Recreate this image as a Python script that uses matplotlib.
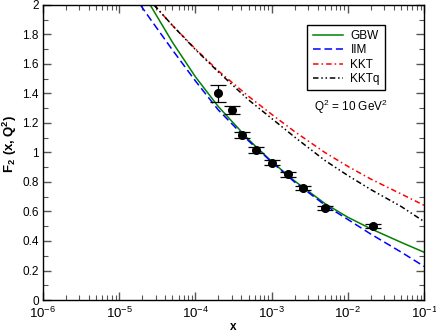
import numpy as np
import matplotlib
matplotlib.use('Agg')
import matplotlib.pyplot as plt
from matplotlib.ticker import MultipleLocator, LogLocator

plt.rcParams['font.family'] = ['Liberation Sans', 'DejaVu Sans']
plt.rcParams['mathtext.fontset'] = 'custom'
plt.rcParams['mathtext.rm'] = 'Liberation Sans'
plt.rcParams['mathtext.bf'] = 'Liberation Sans:bold'

# H1 data, Q^2 = 10 GeV^2
x_data = [2.0e-4, 3.05e-4, 4.05e-4, 6.2e-4, 1.0e-3, 1.66e-3, 2.58e-3, 5.0e-3, 2.15e-2]
f2_data = [1.40, 1.288, 1.117, 1.019, 0.932, 0.852, 0.761, 0.622, 0.502]
f2_err = [0.058, 0.027, 0.02, 0.02, 0.017, 0.016, 0.015, 0.013, 0.012]

# model curves
x_gbw = [2.55e-5, 5e-5, 1e-4, 2e-4, 5e-4, 1e-3, 2e-3, 5e-3, 1e-2, 2e-2, 5e-2, 1e-1]
f2_gbw = [2.0, 1.747, 1.513, 1.311, 1.087, 0.939, 0.807, 0.654, 0.561, 0.483, 0.391, 0.324]

x_iim = [1.9e-5, 2.5e-5, 5e-5, 1e-4, 2e-4, 5e-4, 1e-3, 2e-3, 5e-3, 1e-2, 2e-2, 5e-2, 1e-1]
f2_iim = [2.0, 1.912, 1.695, 1.485, 1.288, 1.078, 0.936, 0.80, 0.644, 0.546, 0.447, 0.325, 0.228]

x_kkt = [2.87e-5, 5e-5, 1e-4, 2e-4, 5e-4, 1e-3, 2e-3, 5e-3, 1e-2, 2e-2, 5e-2, 1e-1]
f2_kkt = [2.0, 1.861, 1.702, 1.553, 1.380, 1.259, 1.142, 1.0, 0.906, 0.820, 0.719, 0.642]

x_kktq = [2.87e-5, 5e-5, 1e-4, 2e-4, 5e-4, 1e-3, 2e-3, 5e-3, 1e-2, 2e-2, 5e-2, 1e-1]
f2_kktq = [2.0, 1.861, 1.698, 1.546, 1.356, 1.231, 1.105, 0.946, 0.844, 0.749, 0.634, 0.532]

fig = plt.figure(figsize=(4.36, 3.30), dpi=100)
ax = fig.add_axes([0.0986, 0.0909, 0.874, 0.894])

ax.plot(x_gbw, f2_gbw, color='#008000', lw=1.1, label='GBW')
ax.plot(x_iim, f2_iim, color='#0000ff', lw=1.1, dashes=(5, 2.5), label='IIM')
ax.plot(x_kkt, f2_kkt, color='#ff0000', lw=1.1, dashes=(3.6, 2, 1, 2), label='KKT')
ax.plot(x_kktq, f2_kktq, color='black', lw=1.1, dashes=(3.6, 1.8, 1, 1.8, 1, 1.8), label='KKTq')

ax.errorbar(x_data, f2_data, yerr=f2_err, fmt='o', color='black', ms=5.5,
            capsize=5.5, elinewidth=0.9, capthick=0.9)

ax.set_xscale('log')
ax.set_xlim(1e-6, 1e-1)
ax.set_ylim(0, 2)
ax.yaxis.set_major_locator(MultipleLocator(0.2))
ax.yaxis.set_minor_locator(MultipleLocator(0.1))
ax.yaxis.set_major_formatter(plt.FuncFormatter(lambda v, p: '%g' % round(v, 1)))
ax.xaxis.set_major_locator(LogLocator(base=10, numticks=10))
ax.xaxis.set_minor_locator(LogLocator(base=10, subs=np.arange(2, 10), numticks=10))

ax.tick_params(which='both', direction='in', top=True, right=True, color='#555555')
ax.tick_params(axis='y', labelsize=8.5, pad=3)
ax.tick_params(axis='x', labelsize=9.5, pad=4)
ax.tick_params(which='major', length=6, width=1)
ax.tick_params(which='minor', length=3.5, width=0.8)
for s in ax.spines.values():
    s.set_linewidth(1.0)

ax.set_xlabel('x', fontweight='bold', fontsize=8.5)
ax.xaxis.set_label_coords(0.5, -0.072)
ax.set_ylabel(r'$\mathbf{F_2\ (x,Q^2)}$', fontsize=9.5)
ax.yaxis.set_label_coords(-0.062, 0.53)

leg = ax.legend(loc='upper right', bbox_to_anchor=(0.898, 0.933), borderaxespad=0,
                fontsize=8.5, handlelength=2.6, handletextpad=0.6, borderpad=0.45,
                labelspacing=0.2, fancybox=False, framealpha=1, edgecolor='black')
leg.get_frame().set_linewidth(1.0)

ax.text(0.808, 0.654, r'Q$^2$ = 10 GeV$^2$', transform=ax.transAxes,
        ha='center', va='center', fontsize=8.5)

fig.savefig('out.png', dpi=100)
